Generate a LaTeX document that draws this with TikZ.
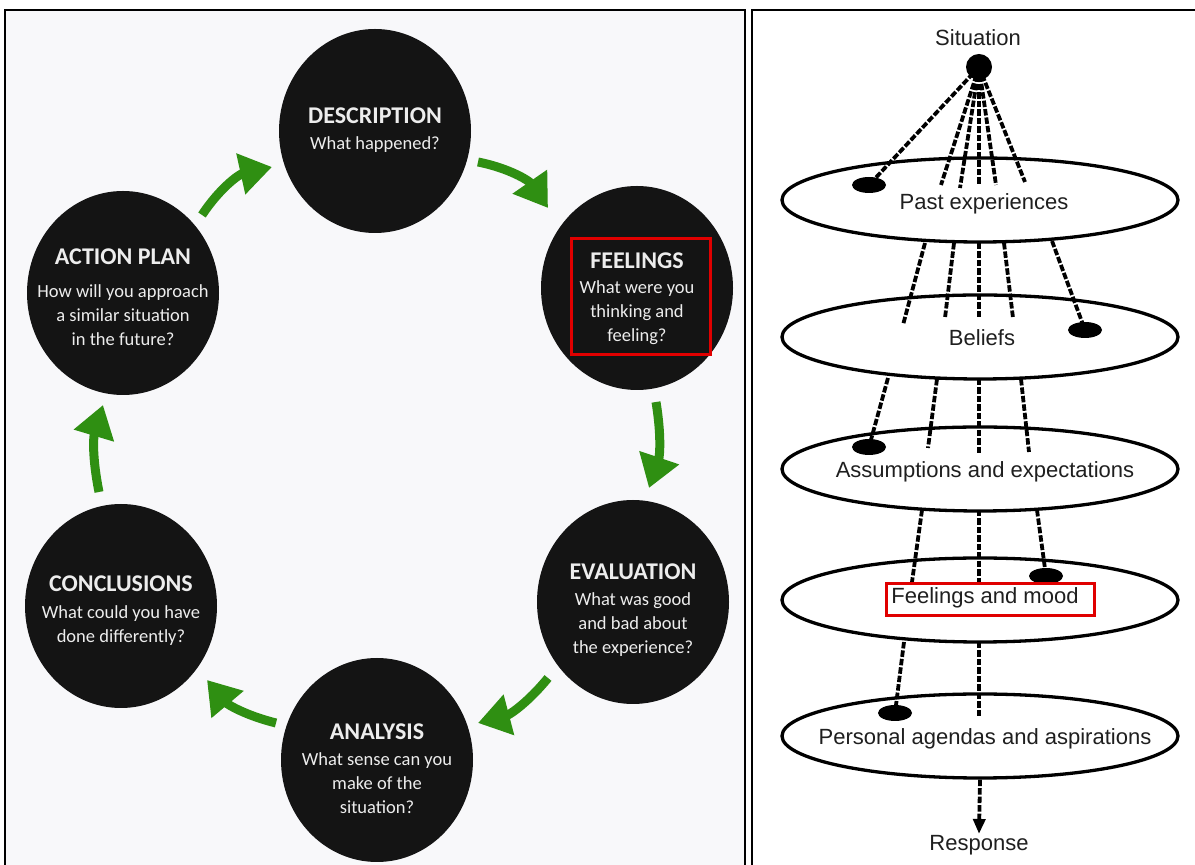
\documentclass[tikz,border=0pt]{standalone}
\usepackage{fontspec}
\setmainfont{Carlito}
\newfontfamily\arialfont{Liberation Sans}
\usetikzlibrary{arrows.meta,shapes.geometric}
\definecolor{panelbg}{HTML}{F8F8FA}
\definecolor{circfill}{HTML}{141414}
\definecolor{arrowgreen}{HTML}{2F8F12}
\definecolor{hlred}{HTML}{E00000}
\definecolor{stagefont}{HTML}{EDEDED}
\newcommand{\hd}{\fontsize{24}{26}\selectfont\bfseries}
\begin{document}
\begin{tikzpicture}[x=1pt,y=1pt,
 stage/.style={ellipse, fill=circfill, minimum width=192pt, minimum height=204pt, inner sep=0pt},
 stagetext/.style={text=stagefont, align=center, font=\fontsize{18.5}{24}\selectfont, inner sep=0pt},
 cyc/.style={arrowgreen, line width=9pt, -{Triangle[length=32pt,width=40pt]}},
 layer/.style={ellipse, draw=black, line width=3.3pt, minimum width=396pt, minimum height=84pt, inner sep=0pt},
 layertext/.style={font=\arialfont\fontsize{22}{26}\selectfont, text=black!88, inner sep=1pt},
 blob/.style={ellipse, fill=black, minimum width=34pt, minimum height=16pt, inner sep=0pt},
 link/.style={line width=3.8pt, dash pattern=on 6.5pt off 2pt},
 hl/.style={draw=hlred, line width=3pt, inner sep=0pt},
 ]
\useasboundingbox (0,0) rectangle (1195,865);
\fill[white] (0,0) rectangle (1195,865);
% panels
\draw[fill=panelbg, line width=1.5pt] (5,-10) rectangle (745,855);
\draw[line width=1.5pt] (752,-10) rectangle (1205,855);

% ---------------- left: Gibbs cycle ----------------
\node[stage] (desc) at (375,734) {};
\node[stage] (feel) at (637,577) {};
\node[stage] (eval) at (633,263) {};
\node[stage] (anal) at (377,105) {};
\node[stage] (conc) at (121,259) {};
\node[stage] (act)  at (123,572) {};

\node[stagetext] (desct) at (375,735) {{\hd DESCRIPTION}\\[2pt]What happened?};
\node[stagetext] (feelt) at (637,566) {{\hd FEELINGS}\\[1pt]What were you\\thinking and\\feeling?};
\node[stagetext] (evalt) at (633,255) {{\hd EVALUATION}\\[2pt]What was good\\and bad about\\the experience?};
\node[stagetext] (analt) at (377,96) {{\hd ANALYSIS}\\[2pt]What sense can you\\make of the\\situation?};
\node[stagetext] (conct) at (121,254) {{\hd CONCLUSIONS}\\[3pt]What could you have\\done differently?};
\node[stagetext] (actt)  at (123,568) {{\hd ACTION PLAN}\\[9pt]How will you approach\\a similar situation\\in the future?};

% green arrows
\coordinate (g1s) at (202,650); \coordinate (g1e) at (272,698);
\coordinate (g2s) at (478,703); \coordinate (g2e) at (548,657);
\coordinate (g3s) at (656,463); \coordinate (g3e) at (649,377);
\coordinate (g4s) at (548,187); \coordinate (g4e) at (478,142);
\coordinate (g5s) at (276,142); \coordinate (g5e) at (207,185);
\coordinate (g6s) at (99,373);  \coordinate (g6e) at (103,460);
\draw[cyc] (g1s) to[bend left=22] (g1e);
\draw[cyc] (g2s) to[bend left=22] (g2e);
\draw[cyc] (g3s) to[bend left=14] (g3e);
\draw[cyc] (g4s) to[bend left=18] (g4e);
\draw[cyc] (g5s) to[bend left=18] (g5e);
\draw[cyc] (g6s) to[bend left=14] (g6e);

\node[hl, minimum width=139pt, minimum height=116pt] (hlL) at (640.5,568) {};

% ---------------- right: layers ----------------
\node[layer] (L1) at (980,665) {};
\node[layer] (L2) at (980,528) {};
\node[layer] (L3) at (980,396) {};
\node[layer] (L4) at (980,265) {};
\node[layer] (L5) at (980,129) {};
\node[layertext] (L1t) at (984,661) {Past experiences};
\node[layertext] (L2t) at (982,527) {Beliefs};
\node[layertext] (L3t) at (985,393) {Assumptions and expectations};
\node[layertext] (L4t) at (985,267) {Feelings and mood};
\node[layertext] (L5t) at (985,126) {Personal agendas and aspirations};

\node[circle, fill=black, minimum size=26pt, inner sep=0pt] (sit) at (979,798) {};
\node[layertext] (sitt) at (978,827) {Situation};
\node[layertext] (resp) at (979,20) {Response};

\node[blob] (s1) at (869,680) {};
\node[blob] (s2) at (1085,535) {};
\node[blob] (s3) at (869,418) {};
\node[blob] (s4) at (1046,289) {};
\node[blob] (s5) at (895,152) {};

% links situation -> layer 1
\coordinate (a1) at (941,680); \coordinate (a2) at (960,677);
\coordinate (a3) at (979,680); \coordinate (a4) at (996,680);
\coordinate (a5) at (1025,683);
\draw[link] (sit.center) -- (s1.center);
\foreach \p in {a1,a2,a3,a4,a5} \draw[link] (sit.center) -- (\p);

% layer 1 -> layer 2
\coordinate (b1s) at (925,622); \coordinate (b1e) at (903,540);
\coordinate (b2s) at (954,622); \coordinate (b2e) at (945,547);
\coordinate (b3s) at (979,622); \coordinate (b3e) at (979,547);
\coordinate (b4s) at (1004,622); \coordinate (b4e) at (1013,547);
\coordinate (b5s) at (1052,624);
\draw[link] (b1s) -- (b1e);
\draw[link] (b2s) -- (b2e);
\draw[link] (b3s) -- (b3e);
\draw[link] (b4s) -- (b4e);
\draw[link] (b5s) -- (s2.center);

% layer 2 -> layer 3
\coordinate (c1s) at (888,487);
\coordinate (c2s) at (937,486); \coordinate (c2e) at (928,417);
\coordinate (c3s) at (979,486); \coordinate (c3e) at (979,412);
\coordinate (c4s) at (1021,486); \coordinate (c4e) at (1029,413);
\draw[link] (c1s) -- (s3.center);
\draw[link] (c2s) -- (c2e);
\draw[link] (c3s) -- (c3e);
\draw[link] (c4s) -- (c4e);

% layer 3 -> layer 4
\coordinate (d1s) at (922,355); \coordinate (d1e) at (912,283);
\coordinate (d2s) at (979,355); \coordinate (d2e) at (979,283);
\coordinate (d3s) at (1037,355);
\draw[link] (d1s) -- (d1e);
\draw[link] (d2s) -- (d2e);
\draw[link] (d3s) -- (s4.center);

% layer 4 -> layer 5
\coordinate (e1s) at (904,223);
\coordinate (e2s) at (979,223); \coordinate (e2e) at (979,147);
\draw[link] (e1s) -- (s5.center);
\draw[link] (e2s) -- (e2e);

% response
\draw[link, -{Triangle[length=15pt,width=12pt]}] (L5.south) -- (resp.north);

\node[hl, minimum width=208pt, minimum height=32pt] (hlR) at (990,265) {};
\end{tikzpicture}
\end{document}
